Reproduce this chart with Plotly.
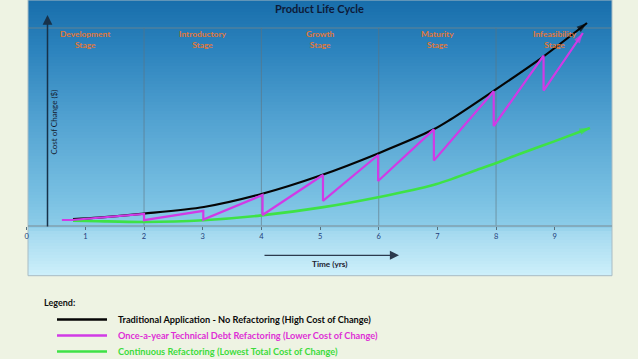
import plotly.graph_objects as go

# ---------------- data ----------------
YEAR_TICKS = [0, 1, 2, 3, 4, 5, 6, 7, 8, 9]
TICK_LABELS = ["0", "1", "2", "3", "4", "5", "6", "7", "8", "9"]
STAGE_YEARS = [1, 3, 5, 7, 9]
STAGE_NAMES = ["Development<br>Stage", "Introductory<br>Stage", "Growth<br>Stage",
               "Maturity<br>Stage", "Infeasibility<br>Stage"]
STAGE_BOUNDARIES = [2, 4, 6, 8]

# Traditional application - no refactoring
TRAD_T = [0.79, 1.22, 2.0, 3.02, 4.0, 5.03, 5.99, 6.93, 7.21, 7.96, 8.8, 9.55]
TRAD_C = [3.4, 4.2, 6.2, 9.5, 16.0, 25.5, 36.3, 48.2, 53.0, 67.6, 84.6, 101.5]

# Once-a-year technical debt refactoring (sawtooth)
ONCE_T = [0.6, 0.77, 2.0, 2.0, 3.01, 3.01, 4.02, 4.02, 5.05, 5.05, 5.99, 5.99,
          6.94, 6.94, 7.96, 7.96, 8.81, 8.81, 9.48]
ONCE_C = [3.0, 3.0, 6.0, 2.9, 7.6, 3.2, 15.5, 5.5, 25.5, 12.6, 35.5, 22.5,
          48.3, 32.7, 67.4, 50.0, 85.2, 67.7, 96.5]

# Continuous refactoring
CONT_T = [0.79, 1.22, 2.0, 3.01, 4.0, 5.03, 5.99, 6.93, 7.67, 7.96, 8.4, 8.98, 9.6]
CONT_C = [2.7, 2.4, 2.0, 2.9, 5.3, 9.3, 14.4, 20.5, 28.0, 31.0, 36.0, 42.2, 49.0]

SERIES_NAMES = [
    "Traditional Application - No Refactoring (High Cost of Change)",
    "Once-a-year Technical Debt Refactoring (Lower Cost of Change)",
    "Continuous Refactoring (Lowest Total Cost of Change)",
]
SERIES_COLORS = ["#050505", "#d13ae6", "#3ee246"]
LEGEND_TEXT_COLORS = ["#0a0a0a", "#de2fd6", "#3cdc3c"]

TITLE = "Product Life Cycle"
Y_TITLE = "Cost of Change ($)"
X_TITLE = "Time (yrs)"

# ---------------- layout helpers ----------------
W, H = 638, 359


def fx(px):
    return px / W


def fy(py):
    return (H - py) / H


FONT = "Lato, 'Open Sans', sans-serif"

fig = go.Figure()


def arrow_sizes(n, s):
    return [0] * (n - 1) + [s]


for t, c, col, w, name in [
    (CONT_T, CONT_C, SERIES_COLORS[2], 2.6, SERIES_NAMES[2]),
    (TRAD_T, TRAD_C, SERIES_COLORS[0], 2.2, SERIES_NAMES[0]),
    (ONCE_T, ONCE_C, SERIES_COLORS[1], 2.2, SERIES_NAMES[1]),
]:
    fig.add_trace(go.Scatter(
        x=t, y=c, name=name, mode="lines+markers",
        line=dict(color=col, width=w,
                  shape="linear" if t is ONCE_T else "spline", smoothing=0.8),
        marker=dict(symbol="arrow", angleref="previous", size=arrow_sizes(len(t), 11),
                    color=col, line=dict(width=0)),
        showlegend=False, hoverinfo="skip", cliponaxis=False,
    ))

shapes = []

# background gradient panel
stops = [(0, (24, 110, 171)), (50, (44, 131, 189)), (120, (82, 162, 209)),
         (200, (122, 193, 227)), (226, (140, 204, 232)), (232, (164, 217, 239)),
         (276, (206, 240, 251))]


def col_at(py):
    for (a, ca), (b, cb) in zip(stops[:-1], stops[1:]):
        if a <= py <= b:
            f = (py - a) / (b - a) if b > a else 0
            return "rgb(%d,%d,%d)" % tuple(round(ca[i] + (cb[i] - ca[i]) * f) for i in range(3))
    return "rgb(%d,%d,%d)" % stops[-1][1]


step = 3
py = 0
while py < 275.7:
    y2 = min(py + step, 275.7)
    shapes.append(dict(type="rect", xref="paper", yref="paper", layer="below",
                       x0=fx(28), x1=fx(612), y0=fy(y2), y1=fy(py),
                       fillcolor=col_at(py + step / 2), line=dict(width=0)))
    py = y2
shapes.append(dict(type="rect", xref="paper", yref="paper", layer="below",
                   x0=fx(28), x1=fx(612), y0=fy(275.7), y1=fy(0),
                   fillcolor="rgba(0,0,0,0)", line=dict(color="#a9bcc4", width=1)))

# top horizontal guide
shapes.append(dict(type="line", xref="paper", yref="paper", layer="below",
                   x0=fx(28), x1=fx(612), y0=fy(28), y1=fy(28),
                   line=dict(color="rgba(150,140,120,0.55)", width=1)))
# stage boundaries
for b in STAGE_BOUNDARIES:
    shapes.append(dict(type="line", xref="x", yref="paper", layer="below",
                       x0=b, x1=b, y0=fy(226), y1=fy(28),
                       line=dict(color="rgba(95,115,125,0.6)", width=1)))
# x axis line
shapes.append(dict(type="line", xref="paper", yref="paper", layer="below",
                   x0=fx(28), x1=fx(612), y0=fy(226), y1=fy(226),
                   line=dict(color="#7f9fae", width=1.5)))

# legend lines
for i, col in enumerate(SERIES_COLORS):
    yy = 319.5 + 16 * i
    shapes.append(dict(type="line", xref="paper", yref="paper",
                       x0=fx(57), x1=fx(107), y0=fy(yy), y1=fy(yy),
                       line=dict(color=col, width=2.5)))

annotations = []


def label(text, x, y, size, color, xref="paper", xanchor="center", angle=0):
    annotations.append(dict(text=text, xref=xref, yref="paper", x=x, y=y,
                            xanchor=xanchor, yanchor="middle", showarrow=False,
                            textangle=angle,
                            font=dict(family=FONT, size=size, color=color)))


label("<b>%s</b>" % TITLE, fx(320), fy(9), 11, "#0d1a38")
for yr, nm in zip(STAGE_YEARS, STAGE_NAMES):
    label("<b>%s</b>" % nm, yr, fy(39.5), 8.4, "#e0783a", xref="x")
# y axis arrow
annotations.append(dict(text="", xref="paper", yref="paper", x=fx(47.5), y=fy(15),
                        ax=0, ay=213, showarrow=True, arrowhead=2, arrowsize=1.3,
                        arrowwidth=1.5, arrowcolor="#17324a"))
label(Y_TITLE, fx(53.5), fy(122), 8, "#15202e", angle=-90)
# time arrow + label
annotations.append(dict(text="", xref="paper", yref="paper", x=fx(399), y=fy(255.3),
                        ax=-136, ay=0, showarrow=True, arrowhead=2, arrowsize=1.4,
                        arrowwidth=1.3, arrowcolor="#2c3a4e"))
label("<b>%s</b>" % X_TITLE, fx(329), fy(264), 8.2, "#1b2230")
# legend texts
label("<b>Legend:</b>", fx(42), fy(302.5), 9, "#111111", xanchor="left")
for i, (nm, tc) in enumerate(zip(SERIES_NAMES, LEGEND_TEXT_COLORS)):
    label("<b>%s</b>" % nm, fx(116), fy(319.5 + 16 * i), 9.2, tc, xanchor="left")

fig.update_layout(
    width=W, height=H,
    margin=dict(l=0, r=0, t=0, b=0, pad=0, autoexpand=False),
    paper_bgcolor="#eef3e3", plot_bgcolor="rgba(0,0,0,0)",
    showlegend=False,
    shapes=shapes, annotations=annotations,
    xaxis=dict(range=[-26.7 / 58.67, (W - 26.7) / 58.67], automargin=False,
               anchor="free", position=fy(226),
               tickmode="array", tickvals=YEAR_TICKS, ticktext=TICK_LABELS,
               ticks="outside", ticklen=3, tickcolor="#56707e", tickwidth=1,
               showgrid=False, zeroline=False, showline=False,
               tickfont=dict(family=FONT, size=7.5, color="#1f3c7a")),
    yaxis=dict(range=[-(H - 226) / 2, 113], visible=False, automargin=False),
)

fig.write_html("out.html", config={"displayModeBar": False},
               post_script="document.body.style.margin='0px';")
